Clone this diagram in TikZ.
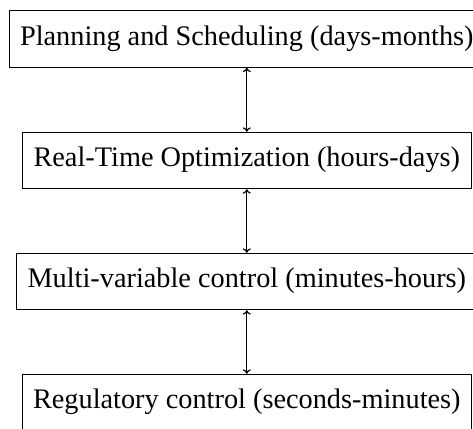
\documentclass[tikz,border=0pt]{standalone}
\usepackage{fontspec}
\setmainfont{Liberation Serif}
\usetikzlibrary{arrows.meta}
\begin{document}
\begin{tikzpicture}[x=1pt,y=1pt,
  lvl/.style={draw, line width=0.8pt, font=\fontsize{28.3}{31}\selectfont,
    inner xsep=11pt, inner ysep=14pt, text height=20.5pt, text depth=8pt},
  link/.style={line width=1.2pt, {To[length=4.5pt,width=8pt]}-{To[length=4.5pt,width=8pt]}}]
\useasboundingbox (0,0) rectangle (473,-428);
\node[lvl] (ps) at (246.8,-39) {Planning and Scheduling (days-months)};
\node[lvl] (rto) at (246.8,-160.5) {Real-Time Optimization (hours-days)};
\node[lvl] (mvc) at (246.8,-281.5) {Multi-variable control (minutes-hours)};
\node[lvl] (reg) at (246.8,-402.5) {Regulatory control (seconds-minutes)};
\draw[link] (ps) -- (rto);
\draw[link] (rto) -- (mvc);
\draw[link] (mvc) -- (reg);
\end{tikzpicture}
\end{document}
